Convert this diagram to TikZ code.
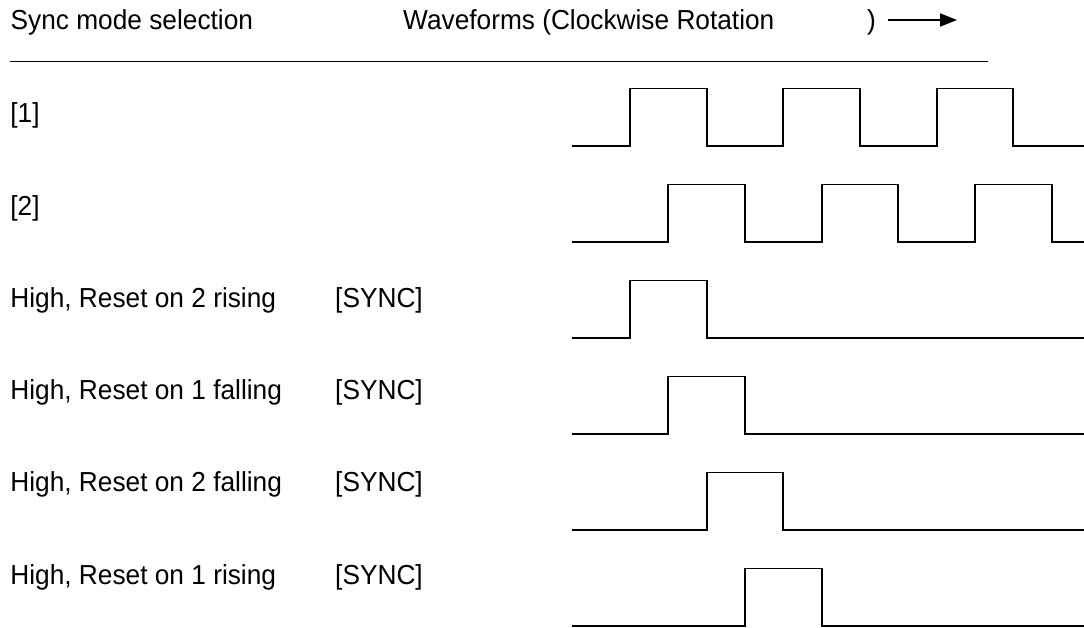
\documentclass[tikz,border=0pt]{standalone}
\usepackage{fontspec}
\setmainfont[FakeStretch=0.955]{Liberation Sans}
\usetikzlibrary{arrows.meta}

\tikzset{
  txt/.style={font=\fontsize{27.5}{31}\selectfont,inner sep=0pt,anchor=base west},
  wave/.style={line width=1.8pt,line join=miter},
  dirarrow/.style={line width=2pt,-{Triangle[length=17pt,width=13pt]}}
}

\begin{document}
\begin{tikzpicture}[x=1pt,y=-1pt]
  \useasboundingbox (0,0) rectangle (1084,628);
  \def\h{57.5}
  \def\q{76.67}
  % header
  \node[txt] (hdsel) at (10.5,29.8) {Sync mode selection};
  \node[txt] (hdwave) at (403,29.8) {Waveforms (Clockwise Rotation};
  \node[txt] (paren) at (867,29.8) {)};
  \coordinate (dirtail) at (888,20);
  \coordinate (dirtip) at (957,20);
  \draw[dirarrow] (dirtail) -- (dirtip);
  \draw[line width=1.6pt] (10,61.7) -- (988,61.7);
  % clock rows
  \foreach \k/\lab/\a in {0/{[1]}/630, 1/{[2]}/668.33} {
    \pgfmathsetmacro\lo{146+96*\k}
    \node[txt] (clk\k) at (10.2,{123+92.2*\k}) {\lab};
    \draw[wave] (572,\lo)
      \foreach \r in {0,1,2} {
        -- ({\a+2*\q*\r},\lo) -- ({\a+2*\q*\r},\lo-\h)
        -- ({\a+2*\q*\r+\q},\lo-\h) -- ({\a+2*\q*\r+\q},\lo)
      } -- (1084,\lo);
  }
  % sync rows
  \foreach \k/\lab/\a in {
    2/{High, Reset on 2 rising}/630,
    3/{High, Reset on 1 falling}/668.33,
    4/{High, Reset on 2 falling}/706.67,
    5/{High, Reset on 1 rising}/745} {
    \pgfmathsetmacro\lo{146+96*\k}
    \node[txt] (mode\k) at (10.2,{123+92.2*\k}) {\lab};
    \node[txt] (sync\k) at (335,{123+92.2*\k}) {[SYNC]};
    \draw[wave] (572,\lo) -- (\a,\lo) -- (\a,\lo-\h)
      -- (\a+\q,\lo-\h) -- (\a+\q,\lo) -- (1084,\lo);
  }
\end{tikzpicture}
\end{document}
